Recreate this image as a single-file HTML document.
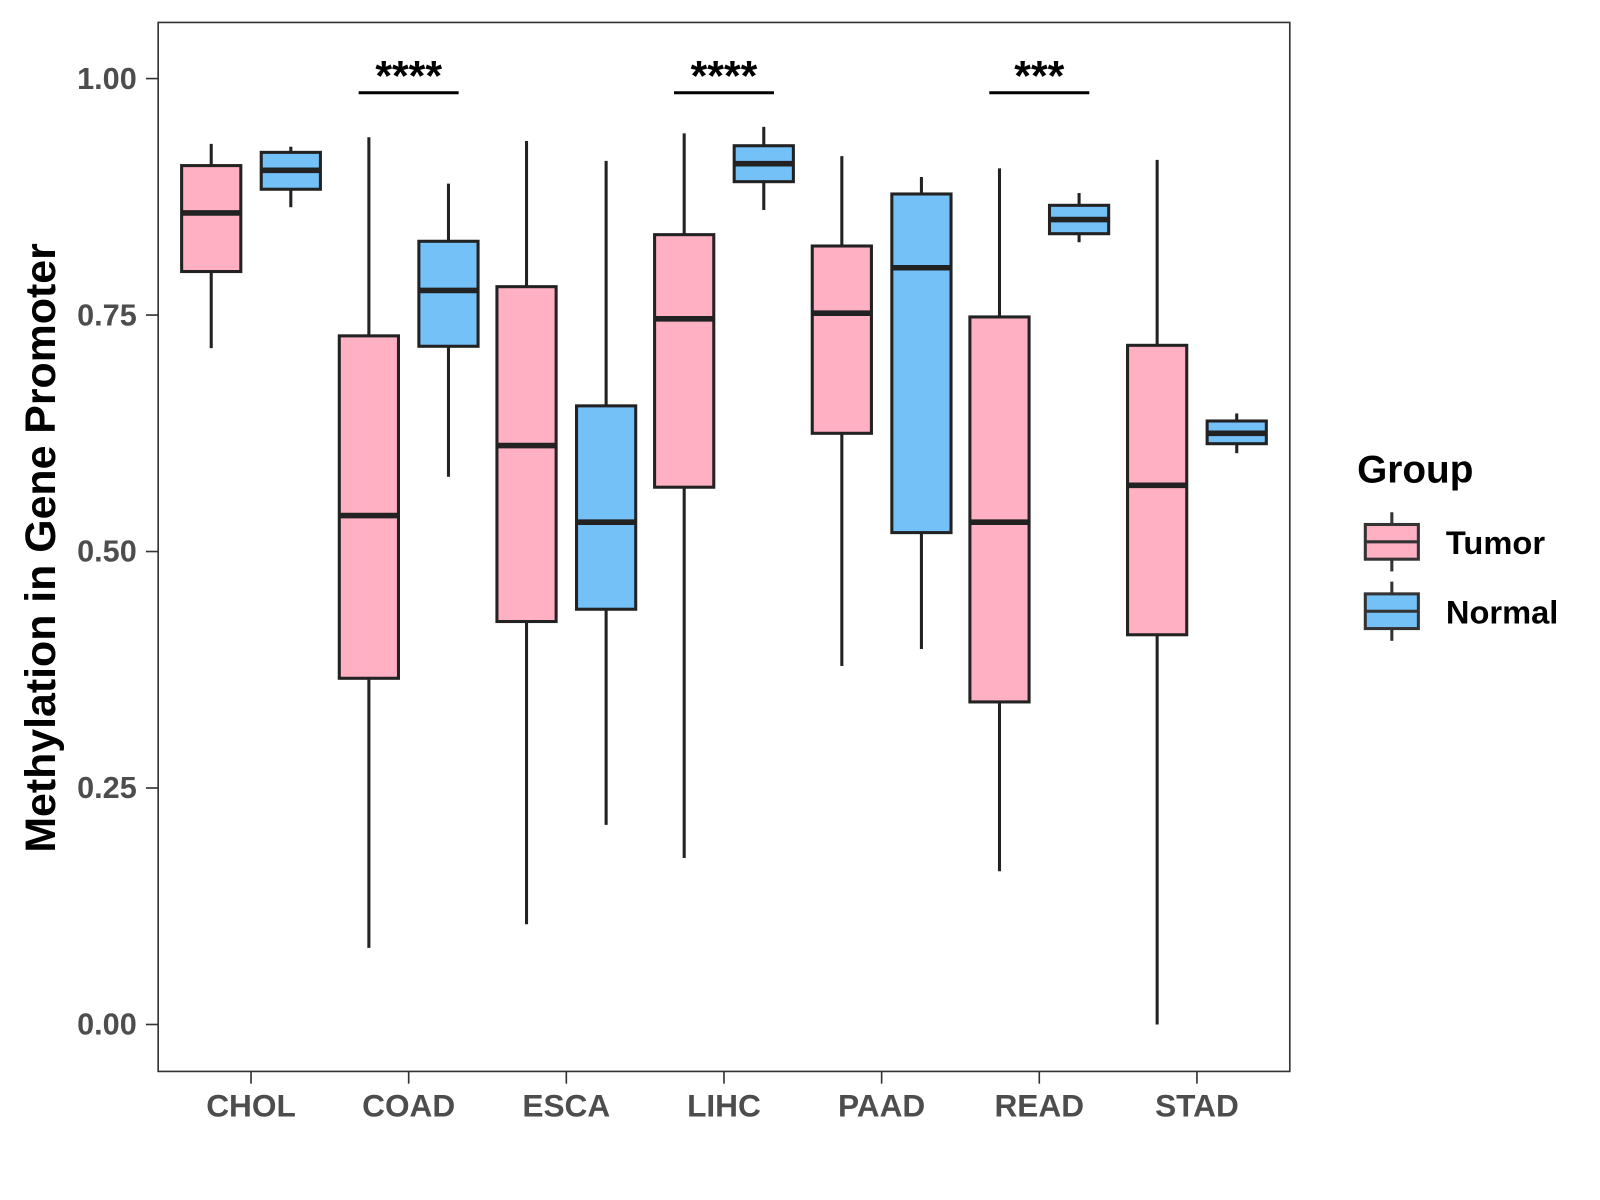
<!DOCTYPE html>
<html><head><meta charset="utf-8"><style>
html,body{margin:0;padding:0;background:#fff;}
svg{display:block;font-family:"Liberation Sans",Arial,sans-serif;font-weight:bold;}
</style></head><body>
<svg id="chart" width="1600" height="1200" viewBox="0 0 1568 1176" xmlns="http://www.w3.org/2000/svg">
<rect x="155" y="22" width="1109" height="1028" fill="#fff" stroke="#333" stroke-width="1.6"/>
<g id="yaxis"></g>
<g id="xaxis"></g>
<g id="boxes"></g>
<g id="sig"></g>
<text transform="translate(54,537) rotate(-90)" text-anchor="middle" font-size="42" fill="#000">Methylation in Gene Promoter</text>
<g>
<text x="1330" y="473" font-size="38" fill="#000">Group</text>
<g>
<line x1="1364" y1="502" x2="1364" y2="560" stroke="#333" stroke-width="3"/>
<rect x="1338" y="514" width="52" height="34" fill="#FFB0C3" stroke="#333" stroke-width="3"/>
<line x1="1338" y1="531" x2="1390" y2="531" stroke="#333" stroke-width="3"/>
<text x="1417" y="543" font-size="32" fill="#000">Tumor</text></g>
<g>
<line x1="1364" y1="570" x2="1364" y2="628" stroke="#333" stroke-width="3"/>
<rect x="1338" y="582" width="52" height="34" fill="#74C1F8" stroke="#333" stroke-width="3"/>
<line x1="1338" y1="599" x2="1390" y2="599" stroke="#333" stroke-width="3"/>
<text x="1417" y="611" font-size="32" fill="#000">Normal</text></g>
</g>
<script>
const categories=["CHOL","COAD","ESCA","LIHC","PAAD","READ","STAD"];
const tumorStats=[[0.715,0.796,0.858,0.908,0.931],[0.081,0.366,0.538,0.728,0.938],[0.106,0.426,0.612,0.780,0.934],[0.176,0.568,0.746,0.835,0.942],[0.379,0.625,0.752,0.823,0.918],[0.162,0.341,0.531,0.748,0.905],[0.0,0.412,0.570,0.718,0.914]];
const normalStats=[[0.864,0.883,0.903,0.922,0.928],[0.579,0.717,0.776,0.828,0.889],[0.211,0.439,0.531,0.654,0.913],[0.861,0.891,0.910,0.929,0.949],[0.397,0.520,0.800,0.878,0.896],[0.827,0.836,0.851,0.866,0.879],[0.604,0.614,0.625,0.638,0.646]];
const yTicks=[0,0.25,0.5,0.75,1.0];
const yTickLabels=["0.00","0.25","0.50","0.75","1.00"];
const sigCats=["COAD","LIHC","READ"];
const sigLabels=["****","****","***"];
const sigLevel=0.985;
const NS="http://www.w3.org/2000/svg";
function y(v){return 1004-v*927;}
function x(i){return 246+i*154.5;}
function mk(tag,attrs,parent,txt){const e=document.createElementNS(NS,tag);for(const k in attrs)e.setAttribute(k,attrs[k]);if(txt!==undefined)e.textContent=txt;parent.appendChild(e);return e;}
const ya=document.getElementById('yaxis');
yTicks.forEach((t,i)=>{
  const l=mk('line',{x1:143,x2:155,y1:y(t),y2:y(t),stroke:'#333','stroke-width':1.6},ya);
  
  
  const tx=mk('text',{x:134,y:y(t)+10,'text-anchor':'end','font-size':30,fill:'#4d4d4d'},ya,yTickLabels[i]);
  
  
});
const xa=document.getElementById('xaxis');
categories.forEach((c,i)=>{
  const l=mk('line',{x1:x(i),x2:x(i),y1:1050,y2:1062,stroke:'#333','stroke-width':1.6},xa);
  
  
  const tx=mk('text',{x:x(i),y:1094,'text-anchor':'middle','font-size':31,fill:'#4d4d4d'},xa,c);
  
  
});
const bg=document.getElementById('boxes');
function box(cx,s,fill,name){
  const g=mk('g',{},bg);
  
  
  mk('line',{x1:cx,x2:cx,y1:y(s[0]),y2:y(s[4]),stroke:'#222','stroke-width':3},g);
  mk('rect',{x:cx-29,y:y(s[3]),width:58,height:y(s[1])-y(s[3]),fill:fill,stroke:'#222','stroke-width':3},g);
  mk('line',{x1:cx-29,x2:cx+29,y1:y(s[2]),y2:y(s[2]),stroke:'#222','stroke-width':5.5},g);
}
categories.forEach((c,i)=>{
  box(x(i)-39,tumorStats[i],'#FFB0C3','box-tumor-'+c.toLowerCase());
  box(x(i)+39,normalStats[i],'#74C1F8','box-normal-'+c.toLowerCase());
});
const sg=document.getElementById('sig');
sigCats.forEach((c,k)=>{
  const i=categories.indexOf(c);
  const l=mk('line',{x1:x(i)-49,x2:x(i)+49,y1:y(sigLevel),y2:y(sigLevel),stroke:'#000','stroke-width':3},sg);
  
  
  const t=mk('text',{x:x(i),y:y(sigLevel)-2,'text-anchor':'middle','font-size':42,fill:'#000'},sg,sigLabels[k]);
  
  
});
</script>
</svg>
</body></html>
